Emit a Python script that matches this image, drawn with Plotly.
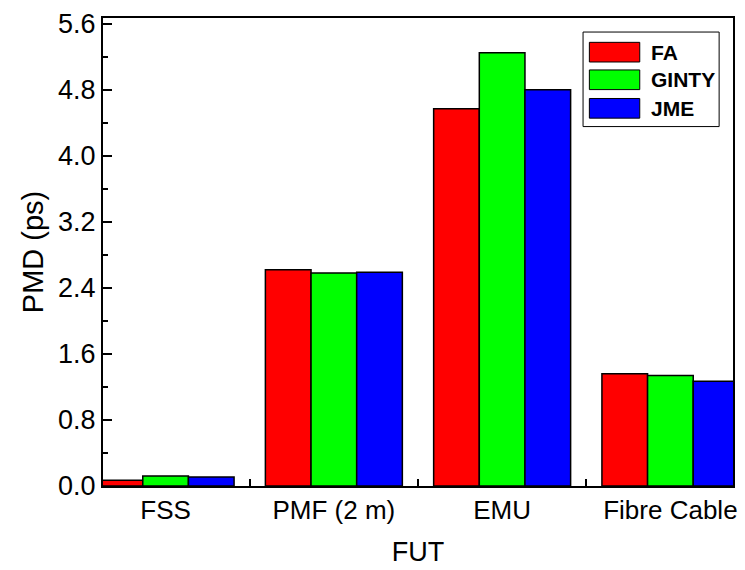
import plotly.graph_objects as go

# PMD measured on each fibre under test, by method
categories = ["FSS", "PMF (2 m)", "EMU", "Fibre Cable"]
series_names = ["FA", "GINTY", "JME"]
fa_values = [0.07, 2.62, 4.57, 1.36]
ginty_values = [0.12, 2.58, 5.25, 1.34]
jme_values = [0.11, 2.59, 4.80, 1.27]
series_colors = ["#ff0000", "#00ff00", "#0000ff"]

y_tick_values = [0.0, 0.8, 1.6, 2.4, 3.2, 4.0, 4.8, 5.6]
y_tick_labels = ["0.0", "0.8", "1.6", "2.4", "3.2", "4.0", "4.8", "5.6"]

FONT = "Arial, Liberation Sans, sans-serif"

fig = go.Figure()
for name, vals, col in zip(series_names, [fa_values, ginty_values, jme_values], series_colors):
    fig.add_trace(go.Bar(
        name=name, x=categories, y=vals,
        marker=dict(color=col, line=dict(color="#000000", width=1.5)),
        showlegend=False,
    ))

# legend box drawn with shapes and bold labels
legend_x0, legend_x1 = 0.762, 0.978
legend_y0, legend_y1 = 0.768, 0.97
fig.add_shape(type="rect", xref="paper", yref="paper",
              x0=legend_x0, x1=legend_x1, y0=legend_y0, y1=legend_y1,
              line=dict(color="#000000", width=1), fillcolor="white", layer="above")
row_centers = [0.927, 0.868, 0.807]
for name, col, yc in zip(series_names, series_colors, row_centers):
    fig.add_shape(type="rect", xref="paper", yref="paper",
                  x0=0.772, x1=0.852, y0=yc - 0.021, y1=yc + 0.021,
                  line=dict(color="#000000", width=1), fillcolor=col, layer="above")
    fig.add_annotation(x=0.866, y=yc, xref="paper", yref="paper",
                       text="<b>%s</b>" % name, showarrow=False,
                       xanchor="left", yanchor="middle",
                       font=dict(family=FONT, size=21, color="#000000"))

fig.update_layout(
    width=745, height=570,
    margin=dict(l=103, r=8, t=18, b=82),
    paper_bgcolor="white", plot_bgcolor="white",
    barmode="group", bargap=0.186, bargroupgap=0,
    font=dict(family=FONT, color="#000000"),
)
fig.update_xaxes(
    range=[-0.372, 3.372],
    showline=True, linecolor="#000000", linewidth=2, mirror=True,
    ticks="inside", tickson="boundaries", ticklen=7, tickwidth=1.5, tickcolor="#000000",
    tickfont=dict(size=26, family=FONT),
    title=dict(text="FUT", font=dict(size=27, family=FONT), standoff=18),
    showgrid=False, zeroline=False,
)
fig.update_yaxes(
    range=[0, 5.67],
    tickvals=y_tick_values, ticktext=y_tick_labels,
    showline=True, linecolor="#000000", linewidth=2, mirror=True,
    ticks="inside", ticklen=9, tickwidth=2, tickcolor="#000000",
    minor=dict(ticks="inside", ticklen=5, tickwidth=1.5, dtick=0.4, tickcolor="#000000"),
    tickfont=dict(size=27, family=FONT),
    title=dict(text="PMD (ps)", font=dict(size=29, family=FONT), standoff=6),
    showgrid=False, zeroline=False,
)

fig.write_html("out.html")
